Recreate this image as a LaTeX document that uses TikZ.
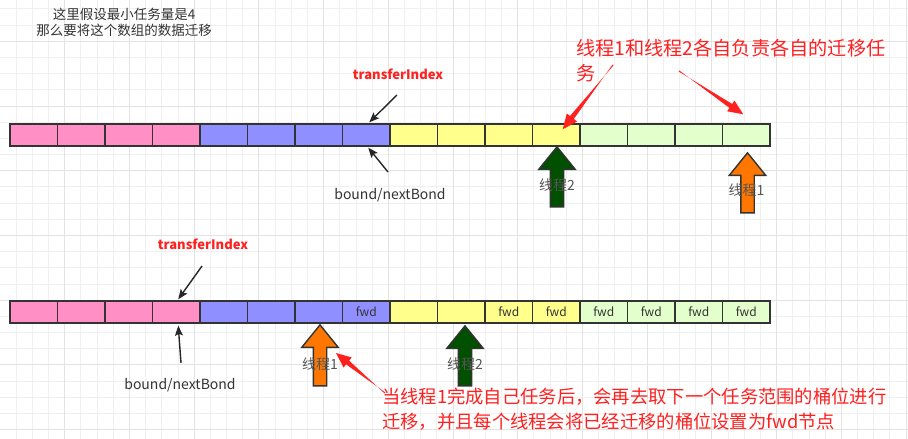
\documentclass[tikz,border=0pt]{standalone}
\usepackage{fontspec}
\setmainfont{Noto Sans CJK SC}
\usetikzlibrary{positioning,arrows.meta,calc,shapes.arrows}

\definecolor{cellc0}{RGB}{255,143,196}
\definecolor{cellc1}{RGB}{143,143,255}
\definecolor{cellc2}{RGB}{255,255,140}
\definecolor{cellc3}{RGB}{226,255,204}
\definecolor{cellline}{RGB}{51,51,51}
\definecolor{txtgray}{RGB}{51,51,51}
\definecolor{thrgray}{RGB}{85,85,85}
\definecolor{thrgreen}{RGB}{0,80,0}
\definecolor{throrange}{RGB}{255,119,0}
\definecolor{notered}{RGB}{255,32,32}

\begin{document}
\begin{tikzpicture}[
  x=1pt, y=-1pt,
  minorgrid/.style={draw=black!6, line width=0.9pt},
  majorgrid/.style={draw=black!11, line width=0.9pt},
  cell/.style={draw=cellline, line width=1.4pt, minimum width=47.5pt, minimum height=22pt, inner sep=0pt},
  fwd/.style={font=\fontsize{12}{12}\selectfont, text=txtgray, inner sep=0pt},
  header/.style={font=\fontsize{13.5}{16}\selectfont, text=txtgray, align=center},
  plain/.style={font=\fontsize{14}{14}\selectfont, text=txtgray},
  idxlabel/.style={font=\bfseries\fontsize{13}{13}\selectfont, text=notered},
  note/.style={font=\fontsize{18.3}{25}\selectfont, text=notered, align=left, inner sep=0pt, anchor=west},
  bigarrow/.style={single arrow, draw=cellline, line width=1.4pt, minimum height=60pt, minimum width=35pt,
                   single arrow head extend=11.5pt, single arrow tip angle=78, shape border rotate=90, inner sep=6pt},
  thrlabel/.style={font=\fontsize{14}{14}\selectfont, text=thrgray},
  ptr/.style={-{Stealth[length=10pt, width=8pt, inset=2pt]}, line width=1.4pt, draw=black!85},
  hint/.style={fill=notered}
]
\useasboundingbox (0,0) rectangle (908,439);

% ---------- background grid ----------
\fill[white] (0,0) rectangle (908,439);
\foreach \k in {1,...,56} \draw[minorgrid] (\k*16.18,0) -- (\k*16.18,439);
\foreach \k in {0,...,26} \draw[minorgrid] (0,8.94+\k*16.18) -- (908,8.94+\k*16.18);
\foreach \k in {1,...,14} \draw[majorgrid] (\k*64.72,0) -- (\k*64.72,439);
\foreach \k in {0,...,6} \draw[majorgrid] (0,41.3+\k*64.72) -- (908,41.3+\k*64.72);

\node[header] (hdr) at (124,22) {这里假设最小任务量是4\\那么要将这个数组的数据迁移};

% ---------- first array: before ----------
\foreach \i in {1,...,16} {
  \pgfmathtruncatemacro{\grp}{(\i-1)/4}
  \node[cell, fill=cellc\grp] (a\i) at (10+47.5*\i-23.75,135) {};
}

\node[idxlabel] (ti1) at (398,74) {transferIndex};
\coordinate (ti1tail) at (397,95);
\draw[ptr] (ti1tail) -- ($(a8.north)+(3,-1)$);

\node[plain] (bn1) at (390,195) {bound/nextBond};
\coordinate (bn1tail) at (388,172);
\draw[ptr] (bn1tail) -- ($(a8.south)+(2,1)$);

\node[bigarrow, fill=thrgreen]  (t2a) at (557,181) {};
\node[bigarrow, fill=throrange] (t1a) at (747.5,187) {};
\node[thrlabel] (t2alab) at ($(t2a)+(0,4)$) {线程2};
\node[thrlabel] (t1alab) at ($(t1a)+(-1,3)$) {线程1};

\node[note, font=\fontsize{19.2}{25}\selectfont] (note1) at (576,60.5) {线程1和线程2各自负责各自的迁移任\\务};
\coordinate (n1a) at (613,65);
\coordinate (n1b) at (679,71);
\coordinate (n1tip) at ($(a12.north east)+(-18,6)$);
\coordinate (n1tip2) at ($(a16.north)+(-3,-9)$);

% ---------- second array: after thread 1 finished ----------
\foreach \i in {1,...,16} {
  \pgfmathtruncatemacro{\grp}{(\i-1)/4}
  \node[cell, fill=cellc\grp] (b\i) at (10+47.5*\i-23.75,312) {};
}
\foreach \i in {8,11,12,13,14,15,16} \node[fwd] (f\i) at (b\i) {fwd};

\node[idxlabel] (ti2) at (203,244) {transferIndex};
\coordinate (ti2tail) at (202,266);
\draw[ptr] (ti2tail) -- ($(b4.north)+(2,-1)$);

\node[plain] (bn2) at (180,385) {bound/nextBond};
\coordinate (bn2tail) at (181,363);
\draw[ptr] (bn2tail) -- ($(b4.south)+(2,2)$);

\node[bigarrow, fill=throrange, minimum height=61pt] (t1b) at (320,359.5) {};
\node[bigarrow, fill=thrgreen] (t2b) at (465,360) {};
\node[thrlabel] (t1blab) at ($(t1b)+(0,4.5)$) {线程1};
\node[thrlabel] (t2blab) at ($(t2b)+(0,4)$) {线程2};

\node[note] (note2) at (382,409) {当线程1完成自己任务后，会再去取下一个任务范围的桶位进行\\迁移，并且每个线程会将已经迁移的桶位设置为fwd节点};
\coordinate (n2a) at (385,393);
\coordinate (n2tip) at ($(t1b.center)+(16,-6.5)$);

% red hint arrows: thin at the tail, widening towards the head
\foreach \s/\e in {n1a/n1tip, n1b/n1tip2, n2a/n2tip} {
  \coordinate (hb) at ($(\e)!15pt!(\s)$);
  \fill[hint] ($(\s)!0.6pt!90:(\e)$) -- ($(hb)!2.4pt!-90:(\e)$) -- ($(hb)!6.5pt!-90:(\e)$) -- (\e)
    -- ($(hb)!6.5pt!90:(\e)$) -- ($(hb)!2.4pt!90:(\e)$) -- ($(\s)!0.6pt!-90:(\e)$) -- cycle;
}

\end{tikzpicture}
\end{document}
